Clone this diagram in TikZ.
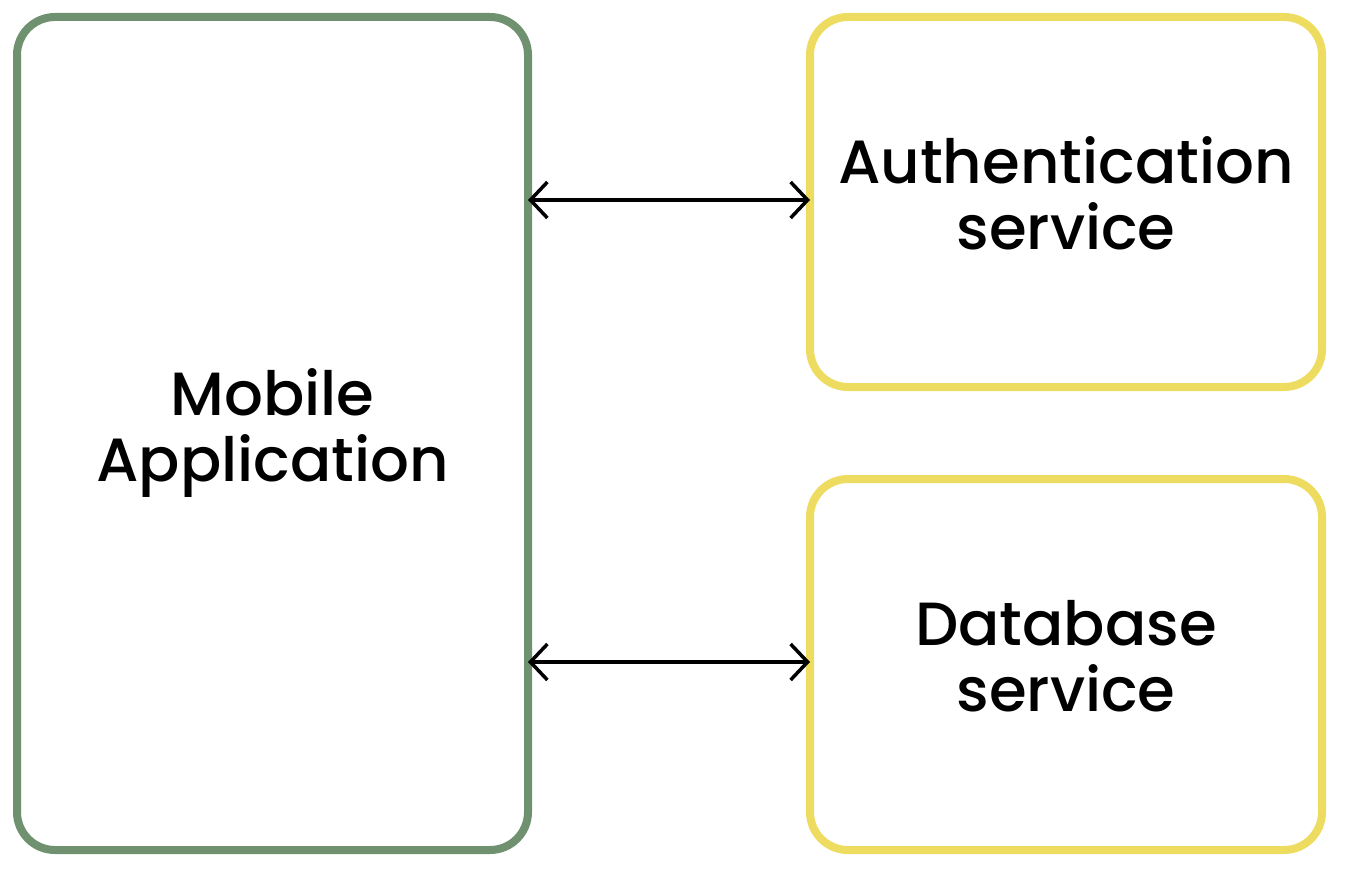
\documentclass[tikz,border=0pt]{standalone}
\usepackage{fontspec}
\setmainfont{Poppins}[UprightFont=* Medium]
\usetikzlibrary{arrows.meta}
\definecolor{appgreen}{RGB}{112,145,112}
\definecolor{svcyellow}{RGB}{238,220,96}
\newcommand{\lowstrut}{\rule[-18pt]{0pt}{18pt}}
\tikzset{
  box/.style={draw, line width=8pt, rounded corners=38pt, inner sep=0pt, outer sep=0pt, fill=white,
    align=center, font=\fontsize{61}{66}\selectfont},
  appbox/.style={box, draw=appgreen},
  svcbox/.style={box, draw=svcyellow},
  link/.style={line width=3.5pt, {Straight Barb[length=17pt,width=36pt]}-{Straight Barb[length=17pt,width=36pt]}}
}
\begin{document}
\begin{tikzpicture}[x=1pt,y=-1pt]
\useasboundingbox (0,0) rectangle (1364,888);
\node[appbox, minimum width=511pt, minimum height=833pt] (app) at (272.5,433.5) {Mobile\\Application};
\node[svcbox, minimum width=512pt, minimum height=370pt] (auth) at (1066,202) {Authentication\\service\lowstrut};
\node[svcbox, minimum width=512pt, minimum height=371pt] (db) at (1066,664.5) {Database\\service\lowstrut};
\draw[link] (app.east |- 0,200) -- (auth.west |- 0,200);
\draw[link] (app.east |- 0,662) -- (db.west |- 0,662);
\end{tikzpicture}
\end{document}
